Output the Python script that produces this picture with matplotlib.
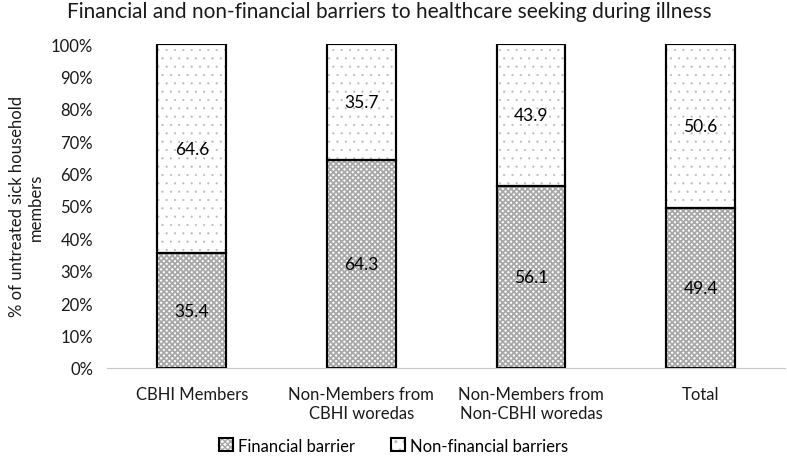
import numpy as np
import matplotlib.pyplot as plt

categories = ["CBHI Members", "Non-Members from\nCBHI woredas",
              "Non-Members from\nNon-CBHI woredas", "Total"]
financial = [35.4, 64.3, 56.1, 49.4]
non_financial = [64.6, 35.7, 43.9, 50.6]
yticks = [0, 10, 20, 30, 40, 50, 60, 70, 80, 90, 100]

plt.rcParams['font.family'] = ['Lato', 'DejaVu Sans']

fig = plt.figure(figsize=(7.87, 4.64), dpi=100)
ax = fig.add_axes([0.136, 0.205, 0.862, 0.698])

x = np.arange(len(categories))
w = 0.405

# financial part: fine grey checker
b1 = ax.bar(x, financial, w, color='white', edgecolor='black', linewidth=1.5,
            hatch='xxxxxx', label='Financial barrier')
for bar in b1:
    bar.set_hatch_linewidth(1.3)
    bar._hatch_color = (0.66, 0.66, 0.66, 1.0)

# non-financial part: sparse light dots
b2 = ax.bar(x, non_financial, w, bottom=financial, color='white',
            edgecolor='black', linewidth=1.5, hatch='..', label='Non-financial barriers')
for bar in b2:
    bar.set_hatch_linewidth(0.3)
    bar._hatch_color = (0.72, 0.72, 0.72, 1.0)

# outlines on top
ax.bar(x, financial, w, color='none', edgecolor='black', linewidth=1.5)
ax.bar(x, non_financial, w, bottom=financial, color='none', edgecolor='black', linewidth=1.5)

for i in range(len(x)):
    ax.text(x[i], financial[i] / 2, f"{financial[i]:.1f}", ha='center', va='center',
            fontsize=12.5, color='black')
    ax.text(x[i], financial[i] + non_financial[i] / 2, f"{non_financial[i]:.1f}",
            ha='center', va='center', fontsize=12.5, color='black')

ax.set_xlim(-0.5, len(categories) - 0.5)
ax.set_ylim(0, 100)
ax.set_yticks(yticks)
ax.set_yticklabels([f"{v}%" for v in yticks], fontsize=12, color='#1a1a1a')
ax.set_xticks(x)
ax.set_xticklabels(categories, fontsize=12, color='#1a1a1a', linespacing=1.25)
ax.tick_params(length=0, pad=10)
ax.tick_params(axis='x', pad=13)

for s in ['top', 'right', 'left']:
    ax.spines[s].set_visible(False)
ax.spines['bottom'].set_color('#c8c8c8')

ylab = ax.set_ylabel("% of untreated sick household\nmembers", fontsize=12, color='#1a1a1a',
                     linespacing=1.25, labelpad=5)
ylab.set_multialignment('center')
fig.suptitle("Financial and non-financial barriers to healthcare seeking during illness",
             fontsize=15, x=0.495, y=0.995, color='#1a1a1a')

leg = fig.legend(handles=[b1, b2], loc='lower center', ncol=2, frameon=False,
                 fontsize=12, bbox_to_anchor=(0.5, -0.012), handlelength=0.8,
                 handleheight=0.8, columnspacing=2.2, handletextpad=0.3)

plt.savefig("out.png", dpi=100)
plt.close()
